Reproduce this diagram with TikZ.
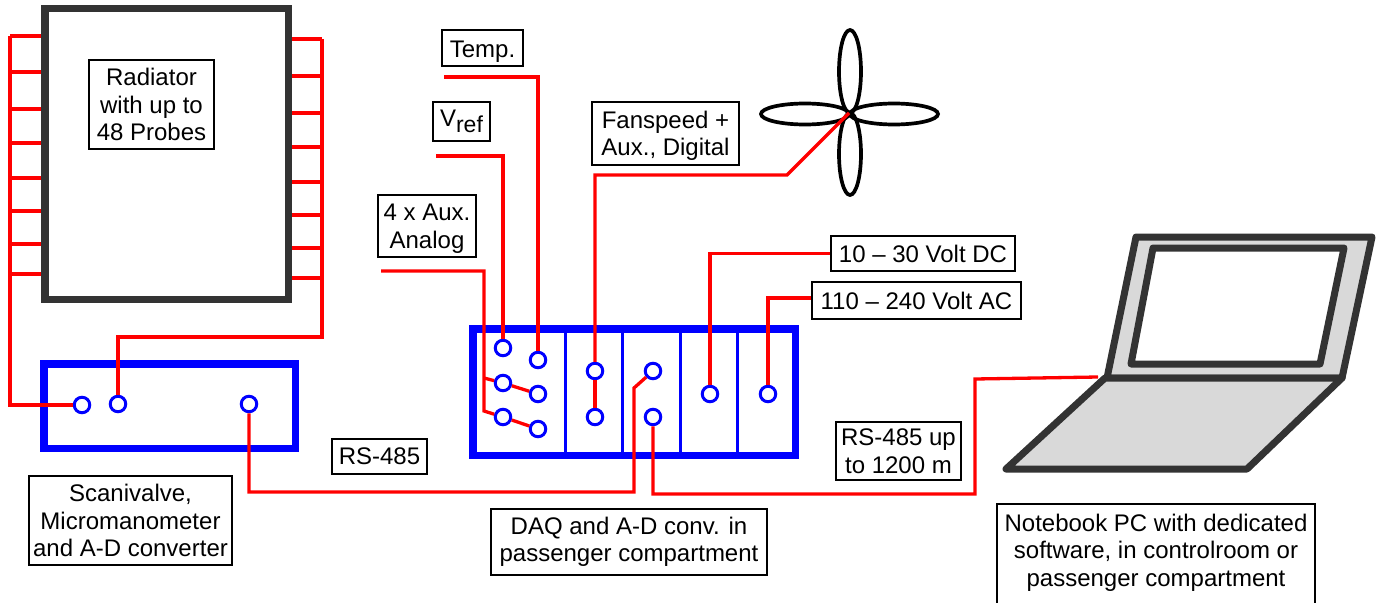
\documentclass[tikz,border=0pt]{standalone}
\usepackage{fontspec}
\setmainfont{Liberation Sans}
\definecolor{framegray}{HTML}{333333}
\definecolor{lapgray}{HTML}{D9D9D9}
\tikzset{
  textbox/.style={draw, line width=2, fill=white, align=center, inner sep=0pt,
    font=\fontsize{24}{27.5}\selectfont},
  blueframe/.style={draw=blue, line width=7.5, inner sep=0pt},
  grayframe/.style={draw=framegray, line width=7.5, fill=white, inner sep=0pt},
  terminal/.style={circle, draw=blue, line width=3, fill=white, inner sep=0pt, minimum size=15.5},
  wire/.style={draw=red, line width=3.3, line join=miter},
  divider/.style={draw=blue, line width=3},
  blade/.style={draw=black, line width=3.7},
  lapline/.style={draw=framegray, line width=7, line join=round, line cap=round}
}
\begin{document}
\begin{tikzpicture}[x=1pt, y=-1pt]
  \useasboundingbox (0, 0) rectangle (1380, 602);
  % Radiator
  \node[grayframe, minimum width=243.5, minimum height=290.5] (radiator) at (166.5, 154) {};
  \node[textbox, minimum width=125, minimum height=89, text depth=-2] (radtext) at (151.5, 104.5) {Radiator\\with up to\\48 Probes};
  % Scanivalve
  \node[blueframe, minimum width=251.5, minimum height=84.5] (scani) at (169.5, 406) {};
  \node[terminal] (sa) at (82, 405) {};
  \node[terminal] (sb) at (118, 404) {};
  \node[terminal] (sc) at (249, 404) {};
  \node[textbox, minimum width=203, minimum height=89, text depth=-4] (scanitext) at (130.5, 520.5) {Scanivalve,\\Micromanometer\\and A-D converter};
  % DAQ
  \node[blueframe, minimum width=322.5, minimum height=126.5] (daq) at (634, 392) {};
  \foreach \x in {565, 622, 680, 737}
    \draw[divider] (\x, 325) -- (\x, 459);
  \node[terminal] (da) at (503, 348) {};
  \node[terminal] (db) at (538, 360) {};
  \node[terminal] (dc) at (503, 383) {};
  \node[terminal] (dd) at (538, 394) {};
  \node[terminal] (de) at (503, 417) {};
  \node[terminal] (df) at (538, 429) {};
  \node[terminal] (dg) at (595, 371) {};
  \node[terminal] (dh) at (595, 417) {};
  \node[terminal] (di) at (653, 371) {};
  \node[terminal] (dj) at (653, 417) {};
  \node[terminal] (dk) at (710, 394) {};
  \node[terminal] (dl) at (768, 394) {};
  \node[textbox, minimum width=276, minimum height=66] (daqtext) at (629, 542) {DAQ and A-D conv. in\\passenger compartment};
  % Fan
  \draw[blade] (850, 71.5) ellipse (11 and 41.5);
  \draw[blade] (850, 154) ellipse (11 and 41);
  \draw[blade] (805, 114) ellipse (44 and 10.5);
  \draw[blade] (894, 114) ellipse (44 and 10.5);
  \coordinate (fanhub) at (849, 113);
  % Notebook
  \draw[lapline, fill=lapgray] (1107, 378) -- (1136, 237) -- (1372, 237) -- (1342, 378) -- cycle;
  \draw[lapline, fill=white] (1153, 248) -- (1344, 248) -- (1320, 364) -- (1131, 364) -- cycle;
  \draw[lapline, fill=lapgray] (1105, 378) -- (1342, 378) -- (1247, 469) -- (1006, 469) -- cycle;
  \coordinate (lapport) at (1098, 377);
  % Labels
  \node[textbox, minimum width=81, minimum height=36, text height=23] (temp) at (482.5, 48) {Temp.};
  \node[textbox, minimum width=57, minimum height=39] (vref) at (461.5, 121.5) {V\raisebox{-6pt}{\fontsize{23}{23}\selectfont ref}};
  \node[textbox, minimum width=98, minimum height=62, text depth=-1] (aux) at (427, 226) {4 x Aux.\\Analog};
  \node[textbox, minimum width=147, minimum height=63, text depth=-1] (fanspeed) at (665.5, 133.5) {Fanspeed +\\Aux., Digital};
  \node[textbox, minimum width=184, minimum height=35] (dcin) at (923, 253.5) {10 -- 30 Volt DC};
  \node[textbox, minimum width=209, minimum height=37] (acin) at (916.5, 300.5) {110 -- 240 Volt AC};
  \node[textbox, minimum width=95, minimum height=35] (rsa) at (379.5, 456.5) {RS-485};
  \node[textbox, minimum width=125, minimum height=58, text depth=-5] (rsb) at (898.5, 451) {RS-485 up\\to 1200 m};
  \node[textbox, minimum width=318, minimum height=103, text depth=11] (pctext) at (1156, 555.5) {Notebook PC with dedicated\\software, in controlroom or\\passenger compartment};
  % Probe wires
  \coordinate (leftbus) at (10, 36);
  \coordinate (rightbus) at (322, 39);
  \foreach \y in {36, 72, 109, 143, 178, 211, 244, 274}
    \draw[wire] (leftbus |- 0, \y) -- (radiator.west |- 0, \y);
  \foreach \y in {39, 76, 113, 147, 182, 215, 248, 278}
    \draw[wire] (radiator.east |- 0, \y) -- (rightbus |- 0, \y);
  \draw[wire] (leftbus) |- (sa);
  \coordinate (rightturn) at (322, 337);
  \draw[wire] (rightbus) -- (rightturn) -| (sb);
  % Signal wires
  \coordinate (tempend) at (444, 77);
  \draw[wire] (tempend) -| (db);
  \coordinate (vrefend) at (436, 156);
  \draw[wire] (vrefend) -| (da);
  \coordinate (auxend) at (381, 271);
  \coordinate (auxdown) at (484, 411);
  \coordinate (auxtee) at (484, 378);
  \draw[wire] (auxend) -| (auxdown) -- (de);
  \draw[wire] (auxtee) -- (dc);
  \draw[wire] (dc) -- (dd);
  \draw[wire] (de) -- (df);
  \coordinate (fanbend) at (787, 175);
  \draw[wire] (fanhub) -- (fanbend) -| (dg);
  \draw[wire] (dg) -- (dh);
  \draw[wire] (dcin) -| (dk);
  \draw[wire] (acin.west |- 0, 298) -| (dl);
  % Bus wires
  \coordinate (busa) at (634, 492);
  \coordinate (busb) at (634, 388);
  \draw[wire] (sc) |- (busa) -- (busb) -- (di);
  \coordinate (pca) at (975, 494);
  \coordinate (pcb) at (975, 379);
  \draw[wire] (dj) |- (pca) -- (pcb) -- (lapport);
\end{tikzpicture}
\end{document}
